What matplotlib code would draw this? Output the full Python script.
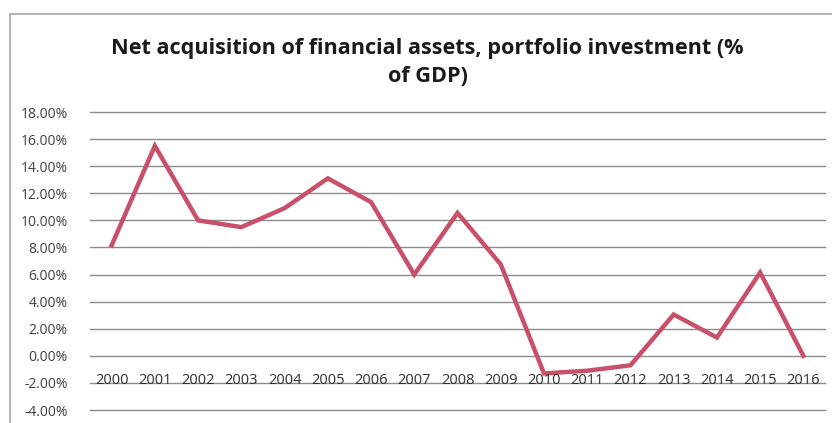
import matplotlib
matplotlib.use("Agg")
import matplotlib.pyplot as plt
from matplotlib.ticker import FuncFormatter, MultipleLocator

years = ["2000", "2001", "2002", "2003", "2004", "2005", "2006", "2007", "2008",
         "2009", "2010", "2011", "2012", "2013", "2014", "2015", "2016"]
values = [8.15, 15.5, 10.0, 9.5, 10.9, 13.1, 11.35, 6.0, 10.55,
          6.75, -1.3, -1.1, -0.7, 3.05, 1.35, 6.15, 0.0]
title = "Net acquisition of financial assets, portfolio investment (%\nof GDP)"

plt.rcParams["font.family"] = ["Open Sans", "DejaVu Sans"]

fig = plt.figure(figsize=(8.32, 4.23), dpi=100)
fig.patch.set_facecolor("white")

# outer chart frame
frame = plt.Rectangle((10 / 832, -0.1), 1.2, (423 - 14) / 423 + 0.1,
                      transform=fig.transFigure, fill=False,
                      edgecolor="#a6a6a6", linewidth=1.2)
fig.add_artist(frame)

ax = fig.add_axes([90 / 832, 13 / 423, (825 - 90) / 832, (410 - 112) / 423])
x = list(range(len(years)))
ax.plot(x, values, color="#c9506a", linewidth=3.2, solid_joinstyle="miter")

ax.set_xlim(-0.5, len(years) - 0.5)
ax.set_ylim(-4, 18)
ax.yaxis.set_major_locator(MultipleLocator(2))
ax.yaxis.set_major_formatter(FuncFormatter(lambda v, p: f"{v:.2f}%"))
ax.grid(axis="y", color="#8c8c8c", linewidth=1.0)
for gl in ax.yaxis.get_gridlines():
    gl.set_clip_on(False)
ax.set_axisbelow(True)
for s in ax.spines.values():
    s.set_visible(False)
ax.tick_params(axis="y", length=0, pad=16, labelsize=10, labelcolor="#404040")
ax.set_xticks([])

for xi, lab in zip(x, years):
    ax.text(xi, -1.85, lab, ha="center", va="center", fontsize=10.5, color="#303030")

fig.text(0.514, 0.852, title, ha="center", va="center", fontsize=15.6,
         fontweight="bold", color="#1a1a1a", linespacing=1.42)

fig.savefig("out.png", dpi=100, facecolor="white")
